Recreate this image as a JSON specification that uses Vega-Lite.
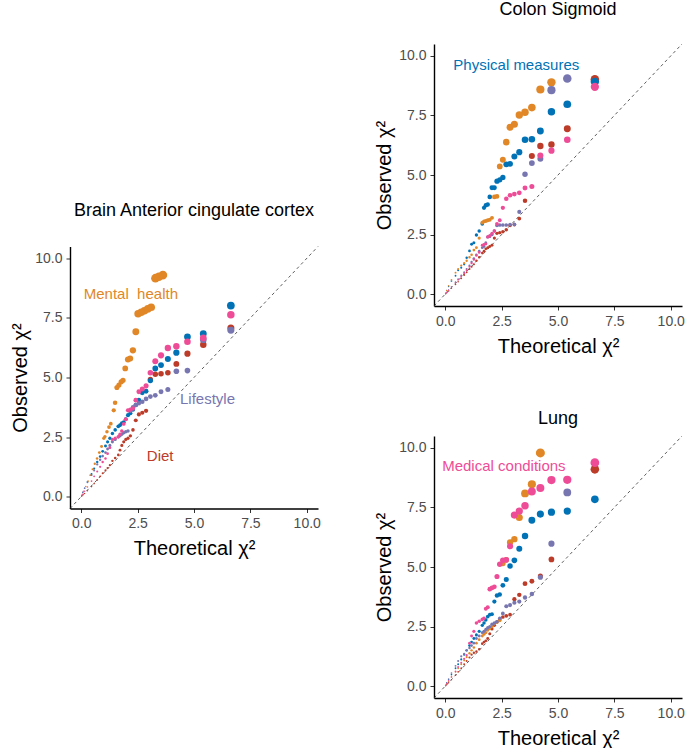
{
"$schema": "https://vega.github.io/schema/vega-lite/v6.json",
"padding": {"left": 10, "top": 0, "right": 0, "bottom": 0},
"config": {
  "font": "Liberation Sans",
  "view": {"stroke": null},
  "axis": {"grid": false, "domainColor": "black", "domainWidth": 1.4, "tickColor": "#333333", "tickSize": 4, "tickWidth": 1, "labelColor": "#4D4D4D", "labelFontSize": 14, "labelPadding": 4, "titleFontSize": 20, "titleFontWeight": "normal", "titleColor": "black"},
  "axisX": {"titlePadding": 8},
  "axisY": {"titlePadding": 4}
},
"datasets": {
  "labels": [
    {"p": "brain", "c": "M", "t": "Mental\u00a0 health", "x": 2.2, "y": 8.5},
    {"p": "brain", "c": "L", "t": "Lifestyle", "x": 5.6, "y": 4.1},
    {"p": "brain", "c": "D", "t": "Diet", "x": 3.5, "y": 1.7},
    {"p": "colon", "c": "P", "t": "Physical measures", "x": 3.15, "y": 9.6},
    {"p": "lung", "c": "C", "t": "Medical conditions", "x": 2.6, "y": 9.26}
  ],
  "diag": [{"x": -0.5, "y": -0.5, "x2": 10.5, "y2": 10.5}],
  "brain": [
{"c":"D","x":6.635,"y":7.08},{"c":"D","x":5.412,"y":6.38},{"c":"D","x":4.709,"y":6.0},{"c":"D","x":4.218,"y":5.57},{"c":"D","x":3.841,"y":5.2},{"c":"D","x":3.537,"y":5.16},{"c":"D","x":3.283,"y":5.14},{"c":"D","x":3.065,"y":4.92},{"c":"D","x":2.874,"y":3.6},{"c":"D","x":2.706,"y":3.52},{"c":"D","x":2.554,"y":3.45},{"c":"D","x":2.417,"y":3.2},{"c":"D","x":2.293,"y":2.8},{"c":"D","x":2.178,"y":2.55},{"c":"D","x":2.072,"y":2.45},{"c":"D","x":1.974,"y":2.4},{"c":"D","x":1.883,"y":2.3},{"c":"D","x":1.798,"y":2.15},{"c":"D","x":1.718,"y":1.95},{"c":"D","x":1.642,"y":1.75},{"c":"D","x":1.504,"y":1.62},{"c":"D","x":1.381,"y":1.5},{"c":"D","x":1.269,"y":1.32},{"c":"D","x":1.167,"y":1.2},{"c":"D","x":1.074,"y":1.1},{"c":"D","x":0.949,"y":0.98},{"c":"D","x":0.838,"y":0.85},{"c":"D","x":0.708,"y":0.7},{"c":"D","x":0.571,"y":0.55},{"c":"D","x":0.455,"y":0.42},{"c":"D","x":0.275,"y":0.25},{"c":"D","x":0.148,"y":0.13},{"c":"D","x":0.064,"y":0.06},{"c":"D","x":0.016,"y":0.01},
{"c":"P","x":6.635,"y":8.02},{"c":"P","x":5.412,"y":6.84},{"c":"P","x":4.709,"y":6.71},{"c":"P","x":4.218,"y":6.04},{"c":"P","x":3.841,"y":5.78},{"c":"P","x":3.537,"y":5.52},{"c":"P","x":3.283,"y":5.38},{"c":"P","x":3.065,"y":4.87},{"c":"P","x":2.874,"y":4.42},{"c":"P","x":2.706,"y":4.36},{"c":"P","x":2.554,"y":4.05},{"c":"P","x":2.417,"y":3.85},{"c":"P","x":2.293,"y":3.65},{"c":"P","x":2.178,"y":3.5},{"c":"P","x":2.072,"y":3.42},{"c":"P","x":1.974,"y":3.25},{"c":"P","x":1.883,"y":3.12},{"c":"P","x":1.798,"y":3.08},{"c":"P","x":1.718,"y":3.0},{"c":"P","x":1.642,"y":2.95},{"c":"P","x":1.504,"y":2.8},{"c":"P","x":1.381,"y":2.65},{"c":"P","x":1.269,"y":2.45},{"c":"P","x":1.167,"y":2.3},{"c":"P","x":1.074,"y":2.12},{"c":"P","x":0.949,"y":1.9},{"c":"P","x":0.838,"y":1.68},{"c":"P","x":0.708,"y":1.45},{"c":"P","x":0.571,"y":1.18},{"c":"P","x":0.455,"y":0.95},{"c":"P","x":0.275,"y":0.62},{"c":"P","x":0.148,"y":0.35},{"c":"P","x":0.064,"y":0.17},{"c":"P","x":0.016,"y":0.05},
{"c":"M","x":3.62,"y":9.3},{"c":"M","x":3.44,"y":9.23},{"c":"M","x":3.29,"y":9.17},{"c":"M","x":3.1,"y":7.95},{"c":"M","x":2.95,"y":7.88},{"c":"M","x":2.8,"y":7.8},{"c":"M","x":2.66,"y":7.74},{"c":"M","x":2.52,"y":7.68},{"c":"M","x":2.42,"y":6.92},{"c":"M","x":2.29,"y":6.14},{"c":"M","x":2.17,"y":5.8},{"c":"M","x":2.07,"y":5.76},{"c":"M","x":1.95,"y":5.38},{"c":"M","x":1.85,"y":4.88},{"c":"M","x":1.77,"y":4.82},{"c":"M","x":1.67,"y":4.68},{"c":"M","x":1.58,"y":4.58},{"c":"M","x":1.5,"y":3.94},{"c":"M","x":1.44,"y":3.62},{"c":"M","x":1.31,"y":3.06},{"c":"M","x":1.23,"y":2.92},{"c":"M","x":1.14,"y":2.72},{"c":"M","x":1.05,"y":2.52},{"c":"M","x":1.0,"y":2.45},{"c":"M","x":0.9,"y":2.1},{"c":"M","x":0.8,"y":1.85},{"c":"M","x":0.7,"y":1.6},{"c":"M","x":0.6,"y":1.38},{"c":"M","x":0.5,"y":1.15},{"c":"M","x":0.4,"y":0.9},{"c":"M","x":0.3,"y":0.65},{"c":"M","x":0.2,"y":0.42},{"c":"M","x":0.1,"y":0.22},{"c":"M","x":0.03,"y":0.06},
{"c":"L","x":6.635,"y":6.98},{"c":"L","x":5.412,"y":6.59},{"c":"L","x":4.709,"y":5.29},{"c":"L","x":4.218,"y":5.26},{"c":"L","x":3.841,"y":4.5},{"c":"L","x":3.537,"y":4.4},{"c":"L","x":3.283,"y":4.25},{"c":"L","x":3.065,"y":4.2},{"c":"L","x":2.874,"y":4.1},{"c":"L","x":2.706,"y":3.98},{"c":"L","x":2.554,"y":3.92},{"c":"L","x":2.417,"y":3.85},{"c":"L","x":2.293,"y":3.75},{"c":"L","x":2.178,"y":3.6},{"c":"L","x":2.072,"y":2.75},{"c":"L","x":1.974,"y":2.72},{"c":"L","x":1.883,"y":2.68},{"c":"L","x":1.798,"y":2.62},{"c":"L","x":1.718,"y":2.55},{"c":"L","x":1.642,"y":2.5},{"c":"L","x":1.504,"y":2.4},{"c":"L","x":1.381,"y":2.3},{"c":"L","x":1.269,"y":2.15},{"c":"L","x":1.167,"y":2.0},{"c":"L","x":1.074,"y":1.85},{"c":"L","x":0.949,"y":1.7},{"c":"L","x":0.838,"y":1.55},{"c":"L","x":0.708,"y":1.35},{"c":"L","x":0.571,"y":1.1},{"c":"L","x":0.455,"y":0.9},{"c":"L","x":0.275,"y":0.6},{"c":"L","x":0.148,"y":0.35},{"c":"L","x":0.064,"y":0.18},{"c":"L","x":0.016,"y":0.05},
{"c":"C","x":6.635,"y":7.63},{"c":"C","x":5.412,"y":6.66},{"c":"C","x":4.709,"y":6.5},{"c":"C","x":4.218,"y":6.31},{"c":"C","x":3.841,"y":6.24},{"c":"C","x":3.537,"y":5.93},{"c":"C","x":3.283,"y":5.68},{"c":"C","x":3.065,"y":5.2},{"c":"C","x":2.874,"y":4.65},{"c":"C","x":2.706,"y":4.52},{"c":"C","x":2.554,"y":4.4},{"c":"C","x":2.417,"y":4.05},{"c":"C","x":2.293,"y":3.7},{"c":"C","x":2.178,"y":3.65},{"c":"C","x":2.072,"y":3.62},{"c":"C","x":1.974,"y":3.25},{"c":"C","x":1.883,"y":3.05},{"c":"C","x":1.798,"y":2.75},{"c":"C","x":1.718,"y":2.62},{"c":"C","x":1.642,"y":2.52},{"c":"C","x":1.504,"y":2.45},{"c":"C","x":1.381,"y":2.4},{"c":"C","x":1.269,"y":2.05},{"c":"C","x":1.167,"y":1.8},{"c":"C","x":1.074,"y":1.6},{"c":"C","x":0.949,"y":1.45},{"c":"C","x":0.838,"y":1.25},{"c":"C","x":0.708,"y":1.05},{"c":"C","x":0.571,"y":0.85},{"c":"C","x":0.455,"y":0.65},{"c":"C","x":0.275,"y":0.4},{"c":"C","x":0.148,"y":0.22},{"c":"C","x":0.064,"y":0.1},{"c":"C","x":0.016,"y":0.03}
  ],
  "colon": [
{"c":"D","x":6.635,"y":9.02},{"c":"D","x":5.412,"y":6.94},{"c":"D","x":4.709,"y":6.28},{"c":"D","x":4.218,"y":6.22},{"c":"D","x":3.841,"y":5.8},{"c":"D","x":3.537,"y":3.92},{"c":"D","x":3.283,"y":3.17},{"c":"D","x":3.065,"y":2.92},{"c":"D","x":2.874,"y":2.88},{"c":"D","x":2.706,"y":2.7},{"c":"D","x":2.554,"y":2.62},{"c":"D","x":2.417,"y":2.58},{"c":"D","x":2.293,"y":2.55},{"c":"D","x":2.178,"y":2.35},{"c":"D","x":2.072,"y":2.05},{"c":"D","x":1.974,"y":2.0},{"c":"D","x":1.883,"y":1.95},{"c":"D","x":1.798,"y":1.9},{"c":"D","x":1.718,"y":1.8},{"c":"D","x":1.642,"y":1.72},{"c":"D","x":1.504,"y":1.55},{"c":"D","x":1.381,"y":1.4},{"c":"D","x":1.269,"y":1.25},{"c":"D","x":1.167,"y":1.15},{"c":"D","x":1.074,"y":1.05},{"c":"D","x":0.949,"y":0.92},{"c":"D","x":0.838,"y":0.8},{"c":"D","x":0.708,"y":0.66},{"c":"D","x":0.571,"y":0.52},{"c":"D","x":0.455,"y":0.4},{"c":"D","x":0.275,"y":0.24},{"c":"D","x":0.148,"y":0.13},{"c":"D","x":0.064,"y":0.06},{"c":"D","x":0.016,"y":0.01},
{"c":"P","x":6.635,"y":8.91},{"c":"P","x":5.412,"y":7.97},{"c":"P","x":4.709,"y":7.66},{"c":"P","x":4.218,"y":6.85},{"c":"P","x":3.841,"y":6.5},{"c":"P","x":3.537,"y":6.48},{"c":"P","x":3.283,"y":5.96},{"c":"P","x":3.065,"y":5.78},{"c":"P","x":2.874,"y":5.47},{"c":"P","x":2.706,"y":5.45},{"c":"P","x":2.554,"y":4.9},{"c":"P","x":2.417,"y":4.8},{"c":"P","x":2.293,"y":4.74},{"c":"P","x":2.178,"y":4.46},{"c":"P","x":2.072,"y":4.46},{"c":"P","x":1.974,"y":4.08},{"c":"P","x":1.883,"y":3.76},{"c":"P","x":1.798,"y":3.73},{"c":"P","x":1.718,"y":3.62},{"c":"P","x":1.642,"y":2.95},{"c":"P","x":1.504,"y":2.65},{"c":"P","x":1.381,"y":2.48},{"c":"P","x":1.269,"y":2.16},{"c":"P","x":1.167,"y":2.09},{"c":"P","x":1.074,"y":1.81},{"c":"P","x":0.949,"y":1.53},{"c":"P","x":0.838,"y":1.25},{"c":"P","x":0.708,"y":1.11},{"c":"P","x":0.571,"y":1.0},{"c":"P","x":0.455,"y":0.77},{"c":"P","x":0.275,"y":0.55},{"c":"P","x":0.148,"y":0.32},{"c":"P","x":0.064,"y":0.15},{"c":"P","x":0.016,"y":0.04},
{"c":"M","x":4.709,"y":8.89},{"c":"M","x":4.218,"y":8.59},{"c":"M","x":3.841,"y":7.83},{"c":"M","x":3.537,"y":7.63},{"c":"M","x":3.283,"y":7.52},{"c":"M","x":3.065,"y":7.13},{"c":"M","x":2.874,"y":7.0},{"c":"M","x":2.706,"y":6.38},{"c":"M","x":2.554,"y":5.64},{"c":"M","x":2.417,"y":5.36},{"c":"M","x":2.293,"y":4.1},{"c":"M","x":2.178,"y":4.08},{"c":"M","x":2.072,"y":3.2},{"c":"M","x":1.974,"y":3.12},{"c":"M","x":1.883,"y":3.1},{"c":"M","x":1.798,"y":3.07},{"c":"M","x":1.718,"y":3.05},{"c":"M","x":1.642,"y":3.0},{"c":"M","x":1.504,"y":2.35},{"c":"M","x":1.381,"y":1.95},{"c":"M","x":1.269,"y":1.85},{"c":"M","x":1.167,"y":1.65},{"c":"M","x":1.074,"y":1.55},{"c":"M","x":0.949,"y":1.4},{"c":"M","x":0.838,"y":1.3},{"c":"M","x":0.708,"y":1.2},{"c":"M","x":0.571,"y":1.05},{"c":"M","x":0.455,"y":0.9},{"c":"M","x":0.275,"y":0.6},{"c":"M","x":0.148,"y":0.35},{"c":"M","x":0.064,"y":0.15},{"c":"M","x":0.016,"y":0.04},
{"c":"L","x":5.412,"y":9.05},{"c":"L","x":4.709,"y":8.56},{"c":"L","x":4.218,"y":5.68},{"c":"L","x":3.841,"y":5.5},{"c":"L","x":3.537,"y":5.03},{"c":"L","x":3.283,"y":3.45},{"c":"L","x":3.065,"y":2.93},{"c":"L","x":2.874,"y":2.92},{"c":"L","x":2.706,"y":2.9},{"c":"L","x":2.554,"y":2.9},{"c":"L","x":2.417,"y":2.9},{"c":"L","x":2.293,"y":2.88},{"c":"L","x":2.178,"y":2.65},{"c":"L","x":2.072,"y":2.5},{"c":"L","x":1.974,"y":2.42},{"c":"L","x":1.883,"y":2.4},{"c":"L","x":1.798,"y":2.15},{"c":"L","x":1.718,"y":2.0},{"c":"L","x":1.642,"y":1.95},{"c":"L","x":1.504,"y":1.8},{"c":"L","x":1.381,"y":1.65},{"c":"L","x":1.269,"y":1.5},{"c":"L","x":1.167,"y":1.35},{"c":"L","x":1.074,"y":1.2},{"c":"L","x":0.949,"y":1.05},{"c":"L","x":0.838,"y":0.92},{"c":"L","x":0.708,"y":0.78},{"c":"L","x":0.571,"y":0.63},{"c":"L","x":0.455,"y":0.5},{"c":"L","x":0.275,"y":0.3},{"c":"L","x":0.148,"y":0.17},{"c":"L","x":0.064,"y":0.07},{"c":"L","x":0.016,"y":0.02},
{"c":"C","x":6.635,"y":8.7},{"c":"C","x":5.412,"y":6.48},{"c":"C","x":4.709,"y":6.02},{"c":"C","x":4.218,"y":5.82},{"c":"C","x":3.841,"y":4.52},{"c":"C","x":3.537,"y":4.45},{"c":"C","x":3.283,"y":4.25},{"c":"C","x":3.065,"y":4.2},{"c":"C","x":2.874,"y":4.15},{"c":"C","x":2.706,"y":4.0},{"c":"C","x":2.554,"y":3.62},{"c":"C","x":2.417,"y":3.1},{"c":"C","x":2.293,"y":2.95},{"c":"C","x":2.178,"y":2.65},{"c":"C","x":2.072,"y":2.55},{"c":"C","x":1.974,"y":2.45},{"c":"C","x":1.883,"y":2.4},{"c":"C","x":1.798,"y":2.1},{"c":"C","x":1.718,"y":2.08},{"c":"C","x":1.642,"y":2.05},{"c":"C","x":1.504,"y":1.75},{"c":"C","x":1.381,"y":1.62},{"c":"C","x":1.269,"y":1.45},{"c":"C","x":1.167,"y":1.3},{"c":"C","x":1.074,"y":1.15},{"c":"C","x":0.949,"y":1.0},{"c":"C","x":0.838,"y":0.88},{"c":"C","x":0.708,"y":0.74},{"c":"C","x":0.571,"y":0.6},{"c":"C","x":0.455,"y":0.48},{"c":"C","x":0.275,"y":0.3},{"c":"C","x":0.148,"y":0.16},{"c":"C","x":0.064,"y":0.07},{"c":"C","x":0.016,"y":0.02}
  ],
  "lung": [
{"c":"D","x":6.635,"y":9.1},{"c":"D","x":4.709,"y":5.32},{"c":"D","x":4.218,"y":4.62},{"c":"D","x":3.841,"y":4.4},{"c":"D","x":3.537,"y":4.3},{"c":"D","x":3.283,"y":3.83},{"c":"D","x":3.065,"y":3.65},{"c":"D","x":2.874,"y":3.0},{"c":"D","x":2.706,"y":2.95},{"c":"D","x":2.554,"y":2.9},{"c":"D","x":2.417,"y":2.8},{"c":"D","x":2.293,"y":2.7},{"c":"D","x":2.178,"y":2.55},{"c":"D","x":2.072,"y":2.4},{"c":"D","x":1.974,"y":2.2},{"c":"D","x":1.883,"y":2.0},{"c":"D","x":1.798,"y":1.9},{"c":"D","x":1.718,"y":1.85},{"c":"D","x":1.642,"y":1.78},{"c":"D","x":1.504,"y":1.55},{"c":"D","x":1.381,"y":1.45},{"c":"D","x":1.269,"y":1.4},{"c":"D","x":1.167,"y":1.32},{"c":"D","x":1.074,"y":1.2},{"c":"D","x":0.949,"y":1.05},{"c":"D","x":0.838,"y":0.92},{"c":"D","x":0.708,"y":0.75},{"c":"D","x":0.571,"y":0.6},{"c":"D","x":0.455,"y":0.46},{"c":"D","x":0.275,"y":0.27},{"c":"D","x":0.148,"y":0.14},{"c":"D","x":0.064,"y":0.06},{"c":"D","x":0.016,"y":0.01},
{"c":"P","x":6.635,"y":7.84},{"c":"P","x":5.412,"y":7.35},{"c":"P","x":4.709,"y":7.3},{"c":"P","x":4.218,"y":7.22},{"c":"P","x":3.841,"y":6.96},{"c":"P","x":3.537,"y":6.3},{"c":"P","x":3.283,"y":5.77},{"c":"P","x":3.065,"y":5.28},{"c":"P","x":2.874,"y":5.04},{"c":"P","x":2.706,"y":4.48},{"c":"P","x":2.554,"y":4.23},{"c":"P","x":2.417,"y":3.85},{"c":"P","x":2.293,"y":3.8},{"c":"P","x":2.178,"y":3.55},{"c":"P","x":2.072,"y":3.02},{"c":"P","x":1.974,"y":3.0},{"c":"P","x":1.883,"y":2.92},{"c":"P","x":1.798,"y":2.78},{"c":"P","x":1.718,"y":2.65},{"c":"P","x":1.642,"y":2.55},{"c":"P","x":1.504,"y":2.3},{"c":"P","x":1.381,"y":2.15},{"c":"P","x":1.269,"y":2.0},{"c":"P","x":1.167,"y":1.85},{"c":"P","x":1.074,"y":1.7},{"c":"P","x":0.949,"y":1.5},{"c":"P","x":0.838,"y":1.32},{"c":"P","x":0.708,"y":1.12},{"c":"P","x":0.571,"y":0.92},{"c":"P","x":0.455,"y":0.75},{"c":"P","x":0.275,"y":0.48},{"c":"P","x":0.148,"y":0.27},{"c":"P","x":0.064,"y":0.13},{"c":"P","x":0.016,"y":0.03},
{"c":"M","x":4.218,"y":9.79},{"c":"M","x":3.841,"y":8.47},{"c":"M","x":3.537,"y":8.09},{"c":"M","x":3.283,"y":7.08},{"c":"M","x":3.065,"y":6.17},{"c":"M","x":2.874,"y":6.03},{"c":"M","x":2.706,"y":5.3},{"c":"M","x":2.554,"y":5.15},{"c":"M","x":2.417,"y":2.75},{"c":"M","x":2.293,"y":2.68},{"c":"M","x":2.178,"y":2.62},{"c":"M","x":2.072,"y":2.5},{"c":"M","x":1.974,"y":2.42},{"c":"M","x":1.883,"y":2.35},{"c":"M","x":1.798,"y":2.25},{"c":"M","x":1.718,"y":2.18},{"c":"M","x":1.642,"y":2.1},{"c":"M","x":1.504,"y":1.95},{"c":"M","x":1.381,"y":1.8},{"c":"M","x":1.269,"y":1.62},{"c":"M","x":1.167,"y":1.5},{"c":"M","x":1.074,"y":1.38},{"c":"M","x":0.949,"y":1.22},{"c":"M","x":0.838,"y":1.08},{"c":"M","x":0.708,"y":0.92},{"c":"M","x":0.571,"y":0.75},{"c":"M","x":0.455,"y":0.6},{"c":"M","x":0.275,"y":0.38},{"c":"M","x":0.148,"y":0.2},{"c":"M","x":0.064,"y":0.09},{"c":"M","x":0.016,"y":0.02},
{"c":"L","x":5.412,"y":8.13},{"c":"L","x":4.709,"y":5.98},{"c":"L","x":4.218,"y":4.57},{"c":"L","x":3.841,"y":3.87},{"c":"L","x":3.537,"y":3.72},{"c":"L","x":3.283,"y":3.55},{"c":"L","x":3.065,"y":3.5},{"c":"L","x":2.874,"y":3.4},{"c":"L","x":2.706,"y":3.35},{"c":"L","x":2.554,"y":3.05},{"c":"L","x":2.417,"y":2.85},{"c":"L","x":2.293,"y":2.7},{"c":"L","x":2.178,"y":2.65},{"c":"L","x":2.072,"y":2.6},{"c":"L","x":1.974,"y":2.5},{"c":"L","x":1.883,"y":2.45},{"c":"L","x":1.798,"y":2.38},{"c":"L","x":1.718,"y":2.3},{"c":"L","x":1.642,"y":2.25},{"c":"L","x":1.504,"y":2.1},{"c":"L","x":1.381,"y":2.0},{"c":"L","x":1.269,"y":1.8},{"c":"L","x":1.167,"y":1.7},{"c":"L","x":1.074,"y":1.6},{"c":"L","x":0.949,"y":1.5},{"c":"L","x":0.838,"y":1.35},{"c":"L","x":0.708,"y":1.25},{"c":"L","x":0.571,"y":1.05},{"c":"L","x":0.455,"y":0.85},{"c":"L","x":0.275,"y":0.55},{"c":"L","x":0.148,"y":0.3},{"c":"L","x":0.064,"y":0.14},{"c":"L","x":0.016,"y":0.04},
{"c":"C","x":6.635,"y":9.38},{"c":"C","x":5.412,"y":8.66},{"c":"C","x":4.709,"y":8.65},{"c":"C","x":4.218,"y":8.32},{"c":"C","x":3.841,"y":8.17},{"c":"C","x":3.537,"y":7.57},{"c":"C","x":3.283,"y":7.35},{"c":"C","x":3.065,"y":7.18},{"c":"C","x":2.874,"y":5.87},{"c":"C","x":2.706,"y":5.3},{"c":"C","x":2.554,"y":5.28},{"c":"C","x":2.417,"y":5.12},{"c":"C","x":2.293,"y":4.6},{"c":"C","x":2.178,"y":4.17},{"c":"C","x":2.072,"y":4.12},{"c":"C","x":1.974,"y":4.07},{"c":"C","x":1.883,"y":3.31},{"c":"C","x":1.798,"y":3.25},{"c":"C","x":1.718,"y":2.85},{"c":"C","x":1.642,"y":2.8},{"c":"C","x":1.504,"y":2.72},{"c":"C","x":1.381,"y":2.65},{"c":"C","x":1.269,"y":2.3},{"c":"C","x":1.167,"y":2.1},{"c":"C","x":1.074,"y":1.8},{"c":"C","x":0.949,"y":1.3},{"c":"C","x":0.838,"y":1.15},{"c":"C","x":0.708,"y":0.98},{"c":"C","x":0.571,"y":0.8},{"c":"C","x":0.455,"y":0.62},{"c":"C","x":0.275,"y":0.38},{"c":"C","x":0.148,"y":0.22},{"c":"C","x":0.064,"y":0.1},{"c":"C","x":0.016,"y":0.03}
  ]
},
"spacing": 53,
"center": true,
"hconcat": [
  {
    "width": 248, "height": 262,
    "title": {"text": "Brain Anterior cingulate cortex", "offset": 26, "fontSize": 18, "fontWeight": "normal", "color": "black", "frame": "group", "anchor": "middle"},
    "encoding": {
      "x": {"field": "x", "type": "quantitative", "title": "Theoretical χ²", "scale": {"domain": [-0.5, 10.5], "nice": false, "zero": false}, "axis": {"values": [0, 2.5, 5, 7.5, 10], "format": ".1f"}},
      "y": {"field": "y", "type": "quantitative", "title": "Observed χ²", "scale": {"domain": [-0.5, 10.5], "nice": false, "zero": false}, "axis": {"values": [0, 2.5, 5, 7.5, 10], "format": ".1f"}}
    },
    "layer": [
      {"data": {"name": "diag"}, "mark": {"type": "rule", "strokeDash": [3, 3], "color": "#333333", "strokeWidth": 0.8}, "encoding": {"x2": {"field": "x2"}, "y2": {"field": "y2"}}},
      {"data": {"name": "brain"}, "mark": {"type": "circle", "opacity": 1}, "encoding": {
        "color": {"field": "c", "type": "nominal", "scale": {"domain": ["D", "P", "M", "L", "C"], "range": ["#BC3C29", "#0072B5", "#E18727", "#7876B1", "#EE4C97"]}, "legend": null},
        "size": {"field": "y", "type": "quantitative", "scale": {"type": "pow", "exponent": 1.6, "domain": [0, 10], "range": [2, 85]}, "legend": null}}},
      {"data": {"name": "labels"}, "transform": [{"filter": "datum.p === 'brain'"}], "mark": {"type": "text", "fontSize": 15, "align": "center", "baseline": "middle"}, "encoding": {
        "text": {"field": "t"},
        "color": {"field": "c", "type": "nominal", "scale": {"domain": ["D", "P", "M", "L", "C"], "range": ["#BC3C29", "#0072B5", "#E18727", "#7876B1", "#EE4C97"]}, "legend": null}}}
    ]
  },
  {
    "spacing": 53,
    "vconcat": [
      {
        "width": 248, "height": 262,
        "title": {"text": "Colon Sigmoid", "offset": 25, "fontSize": 18, "fontWeight": "normal", "color": "black", "frame": "group", "anchor": "middle"},
        "encoding": {
          "x": {"field": "x", "type": "quantitative", "title": "Theoretical χ²", "scale": {"domain": [-0.5, 10.5], "nice": false, "zero": false}, "axis": {"values": [0, 2.5, 5, 7.5, 10], "format": ".1f"}},
          "y": {"field": "y", "type": "quantitative", "title": "Observed χ²", "scale": {"domain": [-0.5, 10.5], "nice": false, "zero": false}, "axis": {"values": [0, 2.5, 5, 7.5, 10], "format": ".1f"}}
        },
        "layer": [
          {"data": {"name": "diag"}, "mark": {"type": "rule", "strokeDash": [3, 3], "color": "#333333", "strokeWidth": 0.8}, "encoding": {"x2": {"field": "x2"}, "y2": {"field": "y2"}}},
          {"data": {"name": "colon"}, "mark": {"type": "circle", "opacity": 1}, "encoding": {
            "color": {"field": "c", "type": "nominal", "scale": {"domain": ["D", "P", "M", "L", "C"], "range": ["#BC3C29", "#0072B5", "#E18727", "#7876B1", "#EE4C97"]}, "legend": null},
            "size": {"field": "y", "type": "quantitative", "scale": {"type": "pow", "exponent": 1.6, "domain": [0, 10], "range": [2, 85]}, "legend": null}}},
          {"data": {"name": "labels"}, "transform": [{"filter": "datum.p === 'colon'"}], "mark": {"type": "text", "fontSize": 15, "align": "center", "baseline": "middle"}, "encoding": {
            "text": {"field": "t"},
            "color": {"field": "c", "type": "nominal", "scale": {"domain": ["D", "P", "M", "L", "C"], "range": ["#BC3C29", "#0072B5", "#E18727", "#7876B1", "#EE4C97"]}, "legend": null}}}
        ]
      },
      {
        "width": 248, "height": 262,
        "title": {"text": "Lung", "offset": 8, "fontSize": 18, "fontWeight": "normal", "color": "black", "frame": "group", "anchor": "middle"},
        "encoding": {
          "x": {"field": "x", "type": "quantitative", "title": ["Theoretical χ²", ""], "scale": {"domain": [-0.5, 10.5], "nice": false, "zero": false}, "axis": {"values": [0, 2.5, 5, 7.5, 10], "format": ".1f", "titleLineHeight": 13}},
          "y": {"field": "y", "type": "quantitative", "title": "Observed χ²", "scale": {"domain": [-0.5, 10.5], "nice": false, "zero": false}, "axis": {"values": [0, 2.5, 5, 7.5, 10], "format": ".1f"}}
        },
        "layer": [
          {"data": {"name": "diag"}, "mark": {"type": "rule", "strokeDash": [3, 3], "color": "#333333", "strokeWidth": 0.8}, "encoding": {"x2": {"field": "x2"}, "y2": {"field": "y2"}}},
          {"data": {"name": "lung"}, "mark": {"type": "circle", "opacity": 1}, "encoding": {
            "color": {"field": "c", "type": "nominal", "scale": {"domain": ["D", "P", "M", "L", "C"], "range": ["#BC3C29", "#0072B5", "#E18727", "#7876B1", "#EE4C97"]}, "legend": null},
            "size": {"field": "y", "type": "quantitative", "scale": {"type": "pow", "exponent": 1.6, "domain": [0, 10], "range": [2, 85]}, "legend": null}}},
          {"data": {"name": "labels"}, "transform": [{"filter": "datum.p === 'lung'"}], "mark": {"type": "text", "fontSize": 15, "align": "center", "baseline": "middle"}, "encoding": {
            "text": {"field": "t"},
            "color": {"field": "c", "type": "nominal", "scale": {"domain": ["D", "P", "M", "L", "C"], "range": ["#BC3C29", "#0072B5", "#E18727", "#7876B1", "#EE4C97"]}, "legend": null}}}
        ]
      }
    ]
  }
]
}
